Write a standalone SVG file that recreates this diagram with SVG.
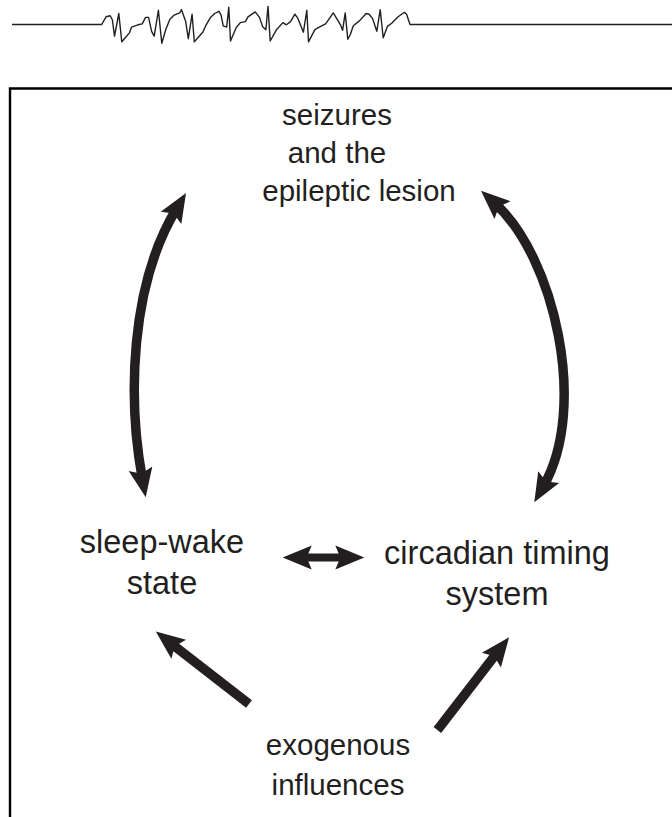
<svg xmlns="http://www.w3.org/2000/svg" width="672" height="817" viewBox="0 0 672 817">
<style>
.lbl{font-family:"Liberation Sans",Arial,sans-serif;font-size:29.5px;fill:#231f20;text-anchor:middle}
.side{font-size:32.5px}
.arr{fill:none;stroke:#231f20;stroke-width:9.5}
</style>
<defs>
<marker id="head" markerUnits="userSpaceOnUse" markerWidth="40" markerHeight="40" refX="0" refY="0" orient="auto-start-reverse" overflow="visible">
<path d="M-10,-12 L19,0 L-10,12 L-5,0 Z" fill="#231f20"/>
</marker>
</defs>
<rect width="672" height="817" fill="#fff"/>
<g id="eeg">
<polyline fill="none" stroke="#231f20" stroke-width="1.4" stroke-linejoin="round" points="12,24.5 101.7,24.5 106,16.8 110.2,15.8 112.4,20 114.5,36.1 118.8,13.5 121.8,41.9 125.2,37.7 129.4,32.9 131.6,27.1 138,24.8 142.2,23.9 145.6,17.4 148.6,17.4 151.6,31.3 154.2,36.1 158.4,10.3 161.8,43.2 165.7,29.7 169.9,19.3 174.2,15.1 179.7,12.9 181.5,9.7 184,16.8 185.7,21.6 188.3,38.7 192.1,14.2 194.3,41.9 199.8,35.5 202.8,32.2 206.2,24.8 210.5,17.4 214.7,13.5 219,11.3 221.1,15.1 223.2,25.8 226.7,27.1 228.8,7.1 230.5,41 233.9,32.9 236,28 240.3,22.6 245.4,21.6 248,16.8 255.2,11.9 259.5,17.4 262.5,26.4 265.9,29.7 268,6.4 270.2,41 276.5,29.7 282.9,22.6 286.4,24.8 290.6,21.6 294.9,14.2 297.9,18.4 303.4,32.2 306.8,10.3 308.5,41.9 314.9,29.7 319.2,27.1 325.6,23.9 333.3,12.9 340.5,24.8 342.6,30.3 345.2,12.9 347.8,39.3 350.3,34.5 353.3,25.8 359.7,20.6 366.1,13.5 369.1,14.2 372.5,18.4 376.8,31.3 380.2,9.7 383.2,37.7 387.4,26.4 391.7,23.2 398.1,16.8 404.5,12.3 406.6,14.2 410,24.5 672,24.5"/>
</g>
<g id="frame">
<path d="M10,817 V88.5 H672" fill="none" stroke="#000" stroke-width="2.4"/>
</g>
<g id="seizures">
<text class="lbl" x="337" y="125">seizures</text>
<text class="lbl" x="337" y="163">and the</text>
<text class="lbl" x="359" y="201">epileptic lesion</text>
</g>
<g id="sleep-wake">
<text class="lbl side" x="162" y="553">sleep-wake</text>
<text class="lbl side" x="162" y="594">state</text>
</g>
<g id="circadian">
<text class="lbl side" x="497" y="564">circadian timing</text>
<text class="lbl side" x="497" y="605">system</text>
</g>
<g id="exogenous">
<text class="lbl" x="338" y="755">exogenous</text>
<text class="lbl" x="338" y="795">influences</text>
</g>
<g id="connectors">
<path class="arr" d="M176.2,209.3 C129.7,286.3 127.9,399.8 142.3,478.6" marker-start="url(#head)" marker-end="url(#head)"/>
<path class="arr" d="M495.1,203.5 C554.5,257.2 588.3,407.5 543.7,485.8" marker-start="url(#head)" marker-end="url(#head)"/>
<path class="arr" style="stroke-width:8" d="M301.7,557.5 H345.3" marker-start="url(#head)" marker-end="url(#head)"/>
<path class="arr" d="M249,704 L170.8,643.2" marker-end="url(#head)"/>
<path class="arr" d="M437.4,730 L497.5,652.2" marker-end="url(#head)"/>
</g>
</svg>
